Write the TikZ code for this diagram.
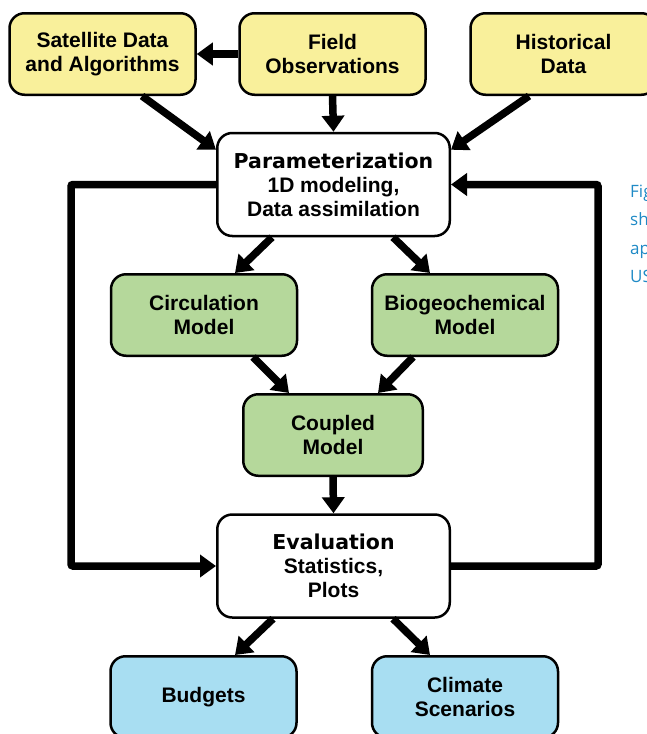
\documentclass[tikz,border=0pt]{standalone}
\usepackage{fontspec}
\setmainfont{Liberation Sans}
\newfontfamily\headfont{DejaVu Sans}
\newfontfamily\capfont{Open Sans}
\usetikzlibrary{arrows.meta, positioning, calc}
\definecolor{CYellow}{HTML}{F9F09B}
\definecolor{CGreen}{HTML}{B5D89B}
\definecolor{CBlue}{HTML}{A8DEF2}
\definecolor{CCaption}{HTML}{1F8AC6}
\newcommand{\headline}[1]{{\headfont\fontsize{20.5}{24}\selectfont\bfseries #1}}

\begin{document}
\begin{tikzpicture}[x=1pt, y=1pt,
  box/.style={draw=black, line width=2.5pt, rounded corners=15pt, align=center,
    inner sep=0pt, minimum width=186pt, minimum height=81.5pt,
    font=\fontsize{21}{24}\selectfont\bfseries},
  inbox/.style={box, fill=CYellow},
  modelbox/.style={box, fill=CGreen},
  stepbox/.style={box, fill=white, minimum width=232.5pt, minimum height=103pt},
  outbox/.style={box, fill=CBlue},
  flow/.style={line width=7.5pt, -{Triangle[length=16pt, width=22pt]}},
  feedback/.style={flow, rounded corners=2pt},
  caption/.style={text=CCaption, anchor=base west, inner sep=0pt,
    font=\capfont\fontsize{17}{20}\selectfont}
]
  % --- PAGE ---
  \fill[white] (0,0) rectangle (647,-734);
  \useasboundingbox (0,0) rectangle (647,-734);

  % =====================================================================
  % 1. DATA SOURCES (Top Row)
  % =====================================================================
  \node[inbox] (sat)   at (102.5,-54) {Satellite Data\\and Algorithms};
  \node[inbox] (field) at (332.5,-54) {Field\\Observations};
  \node[inbox] (hist)  at (563.5,-54) {Historical\\Data};

  % =====================================================================
  % 2. MODEL CHAIN
  % =====================================================================
  \node[stepbox] (param) at (333.5,-184.5)
    {\headline{Parameterization}\\1D modeling,\\Data assimilation};
  \node[modelbox] (circ) at (204,-315) {Circulation\\Model};
  \node[modelbox] (bgc)  at (465,-315) {Biogeochemical\\Model};
  \node[modelbox, minimum width=179.5pt] (coupled) at (333,-435) {Coupled\\Model};
  \node[stepbox] (eval) at (333.5,-566)
    {\headline{Evaluation}\\Statistics,\\Plots};

  % =====================================================================
  % 3. PRODUCTS (Bottom Row)
  % =====================================================================
  \node[outbox] (budgets) at (203.5,-697) {Budgets};
  \node[outbox] (climate) at (465,-697) {Climate\\Scenarios};

  % =====================================================================
  % 4. CONNECTORS
  % =====================================================================
  % Inputs
  \draw[flow] (field.west) -- (sat.east);
  \draw[flow] (field.south) -- (param.north);
  \draw[flow] ([xshift=39.5]sat.south) -- ([yshift=-18]param.north west);
  \draw[flow] ([xshift=-34.5]hist.south) -- ([yshift=-18]param.north east);
  % Models
  \draw[flow] ([xshift=-61.5]param.south) -- ([xshift=31]circ.north);
  \draw[flow] ([xshift=59.5]param.south) -- ([xshift=-35]bgc.north);
  \draw[flow] ([xshift=49]circ.south) -- ([xshift=-44]coupled.north);
  \draw[flow] ([xshift=-52]bgc.south) -- ([xshift=45]coupled.north);
  \draw[flow] (coupled.south) -- (eval.north);
  % Products
  \draw[flow] ([xshift=-60.5]eval.south) -- ([xshift=31.5]budgets.north);
  \draw[flow] ([xshift=59.5]eval.south) -- ([xshift=-35]climate.north);
  % Feedback loops
  \draw[feedback] (param.west) -- ++(-145,0) |- (eval.west);
  \draw[feedback] (eval.east) -- ++(147,0) |- (param.east);

  % =====================================================================
  % 5. CAPTION (cut at page edge)
  % =====================================================================
  \foreach \txt [count=\i] in {Fig, sh, ap, US}
    \node[caption] (cap\i) at (630,{-197-28.5*(\i-1)}) {\txt};

\end{tikzpicture}
\end{document}
